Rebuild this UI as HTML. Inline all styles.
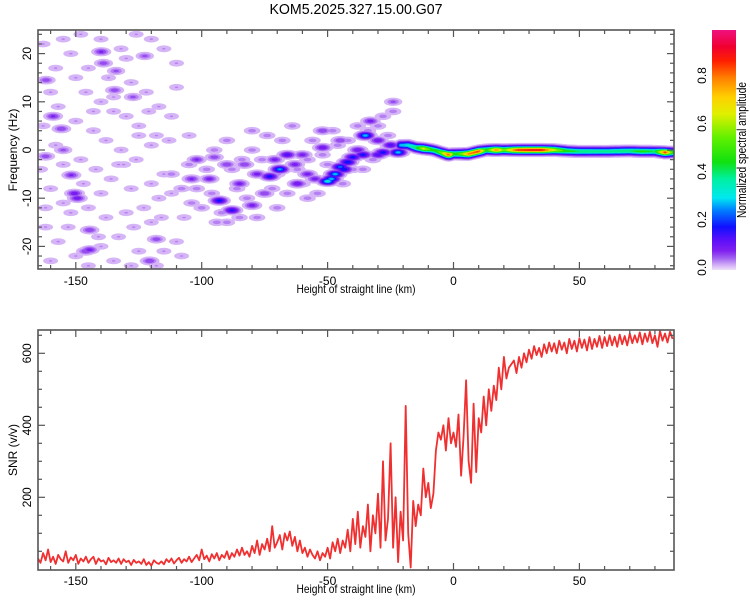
<!DOCTYPE html>
<html><head><meta charset="utf-8"><style>
html,body{margin:0;padding:0;background:#fff;}
svg{display:block;font-family:"Liberation Sans",sans-serif;}
</style></head><body>
<svg id="chart" width="750" height="600" viewBox="0 0 750 600" xmlns="http://www.w3.org/2000/svg">
<defs>
<clipPath id="clipTop"><rect x="38" y="30" width="636" height="239"/></clipPath>
<clipPath id="clipBot"><rect x="38" y="330" width="636" height="240"/></clipPath>
<linearGradient id="cbGrad" x1="0" y1="1" x2="0" y2="0"></linearGradient>
</defs>
<text x="356" y="14" font-size="15" text-anchor="middle" textLength="173" lengthAdjust="spacingAndGlyphs">KOM5.2025.327.15.00.G07</text>
<g id="spec" clip-path="url(#clipTop)"></g>
<g id="snr" clip-path="url(#clipBot)"></g>
<g id="axes"></g>
<text x="356" y="293" font-size="12" text-anchor="middle" textLength="119" lengthAdjust="spacingAndGlyphs">Height of straight line (km)</text>
<text x="356" y="593" font-size="12" text-anchor="middle" textLength="119" lengthAdjust="spacingAndGlyphs">Height of straight line (km)</text>
<text transform="translate(17,150) rotate(-90)" font-size="12" text-anchor="middle">Frequency (Hz)</text>
<text transform="translate(17,450) rotate(-90)" font-size="12" text-anchor="middle">SNR (v/v)</text>
<rect x="712" y="30" width="24" height="240" fill="url(#cbGrad)"/>
<text transform="translate(746,150) rotate(-90)" font-size="13" text-anchor="middle" textLength="136" lengthAdjust="spacingAndGlyphs">Normalized spectral amplitude</text>
</svg>
<script>
// ---- data ----
const snrStartKm = -165;
const snrStepKm = 1;
const snrValues = [
30,18,45,25,55,20,35,15,40,28,
22,50,18,33,25,40,15,30,22,35,
18,28,35,15,30,22,25,14,32,20,
25,18,30,15,28,20,24,12,26,18,
22,15,28,12,20,10,25,18,15,22,
14,28,20,30,16,25,32,18,28,22,
35,20,30,40,25,55,28,38,22,42,
30,45,25,40,32,50,28,45,35,55,
38,60,40,50,35,65,45,80,40,70,
55,85,50,120,60,75,95,55,100,80,
105,65,90,50,80,45,60,35,55,40,
30,50,25,45,35,60,30,75,50,85,
45,80,60,110,50,140,70,160,60,120,
90,180,50,150,100,210,60,300,80,140,
350,60,200,20,160,80,454,100,5,190,
120,180,150,280,200,240,170,210,330,380,
360,400,330,420,350,380,340,430,260,370,
525,300,240,460,270,420,380,480,400,500,
440,510,470,560,500,590,530,560,570,580,
545,590,560,600,575,610,585,620,595,615,
590,625,600,630,605,628,600,635,610,630,
600,640,612,635,605,642,615,638,608,645,
612,640,618,648,615,645,620,650,622,646,
618,652,625,648,622,655,628,650,630,658,
625,655,632,660,628,650,618,662,635,655,
630,660,640];

const spotKm = [
-139.9,-139,-134,-134.6,-127.3,-122.6,-161.8,-159,-155.7,-155,-162,-151.8,-149.4,-150.5,-144.5,-144.5,-146,-118,-120.7,
-102,-104,-97,-93,-88,-85,-90,-80,-78,-73,-75,-69,-66,-63,-62,-58,-55,-52,-52,-50,-47,-45,-42,-40,-38,-35,-33,-30,-28,-25,-22,-24,-36,-60,-71,-83,-95,-45,-30,-48.5,-43.5,
-163,-158,-160,-163,-157,-150,-146,-140,-135,-130,-125,-118,-113,-155,-148,-142,-136,-128,-120,-115,-160,-152,-145,-138,-130,-123,-117,-112,-162,-157,-150,-140,-133,-127,-120,-115,-110,-160,-145,-135,-125,-155,-148,-140,-132,-126,-120,-115,-110,-152,-145,-137,-128,-122,-117,-112,-150,-143,-138,-132,-126,-120,-158,-164,-147,-140,-133,-125,-135,-130,-143,-155,-162,-118,-128,-108,-110,-105,-107,
-105,-102,-98,-96,-92,-90,-85,-82,-88,-84,-80,-76,-72,-70,-66,-62,-58,-54,-50,-46,-42,-38,-34,-30,-26,-90,-95,-100,-108,-112,-78,-68,-64,-56,-48,-44,-36,-32,-28,-24,-86,-74,-60,-58,-94,-104,-80,-70,-52,-40,-153,-131,-121,-141,-116];
const spotHz = [
20.4,18,16.4,12.4,11,19.5,14.5,7,4.4,0,-1.3,-5.2,-10,-9,-16.6,-20.7,-21,-18.5,-23,
-2,-6,-6,-10.5,-12.5,-7,-3,-11.5,-5,-5.5,-9,-4,-1,-3,-7,-5,-6,0.5,4,-6.5,-5,-3.5,-2.5,-1.5,0,3,6,2,-0.5,1,-0.5,10,-1,-1,-2,-3,-1.5,2,-1,-6,-4,
22,17,12,5,9,15,12,10,8,7,5,3,2,-3,-2,-4,-6,-8,-7,-5,-8,-13,-12,-14,-13,-12,-10,-9,-16,-19,-22,-20,-18,-16,-15,-21,-19,-23,-24,-23,-21,23,24,23,21,24,23,21,18,20,17,15,14,12,9,7,6,4,2,0,-2,1,1,-4,-7,-9,-3,3,11,19,8,-11,-12,-24,-24,-22,13,3,-14,
-3,-8,-4,-9,-13,-15,-14,-10,-4,-2,0,-2,-8,-12,-9,-4,-2,-9,-3,1,2,5,4,5,3,2,0,-12,-8,-5,-14,2,5,2,4,-7,-4,-2,7,8,-8,3,-7,-10,-15,-11,4,-5,-1,-4,-16,-3,8,-18,-14];
const spotAmp = [
0.09,0.07,0.06,0.07,0.06,0.06,0.07,0.09,0.08,0.06,0.07,0.09,0.11,0.11,0.08,0.1,0.08,0.07,0.08,
0.09,0.09,0.1,0.2,0.18,0.1,0.08,0.1,0.1,0.2,0.08,0.28,0.15,0.1,0.12,0.1,0.1,0.12,0.08,0.35,0.3,0.25,0.22,0.2,0.12,0.3,0.1,0.12,0.2,0.15,0.3,0.06,0.2,0.1,0.1,0.08,0.07,0.08,0.15,0.3,0.22,
0.03,0.03,0.03,0.03,0.03,0.03,0.03,0.03,0.03,0.03,0.03,0.03,0.03,0.03,0.03,0.03,0.03,0.03,0.03,0.03,0.03,0.03,0.03,0.03,0.03,0.03,0.03,0.03,0.03,0.03,0.03,0.03,0.03,0.03,0.03,0.03,0.03,0.03,0.03,0.03,0.03,0.03,0.03,0.03,0.03,0.03,0.03,0.03,0.03,0.03,0.03,0.03,0.03,0.03,0.03,0.03,0.03,0.03,0.03,0.03,0.03,0.03,0.03,0.03,0.03,0.03,0.03,0.03,0.03,0.03,0.03,0.03,0.03,0.03,0.03,0.03,0.03,0.03,0.03,
0.04,0.04,0.04,0.04,0.04,0.04,0.04,0.04,0.04,0.04,0.04,0.04,0.04,0.04,0.04,0.04,0.04,0.04,0.04,0.04,0.04,0.04,0.04,0.04,0.04,0.04,0.04,0.04,0.04,0.04,0.04,0.04,0.04,0.04,0.04,0.04,0.04,0.04,0.04,0.04,0.04,0.04,0.04,0.04,0.04,0.04,0.04,0.04,0.04,0.04,0.03,0.03,0.03,0.03,0.03];

const ridgeKm  = [-21,-18,-15,-12,-8,-5,-2,0,3,6,10,13,17,20,25,30,35,40,45,50,60,70,75,80,84,88];
const ridgeHz  = [1,1,0.5,0.3,0,-0.5,-1,-0.8,-0.8,-0.8,-0.3,0,0,0,0,0,0,0,-0.2,-0.3,-0.3,-0.2,-0.3,-0.3,-0.5,-0.5];
const ridgeAmp = [0.3,0.35,0.45,0.7,0.5,0.6,0.9,0.5,0.6,0.85,0.9,0.5,0.85,0.6,0.9,0.95,0.95,0.7,0.5,0.45,0.42,0.45,0.5,0.45,0.9,0.4];

const xMajorTicks = [-150,-100,-50,0,50];
const freqTicks = [-20,-10,0,10,20];
const snrTicks = [200,400,600];
const cbTicks = [0.0,0.2,0.4,0.6,0.8];

// ---- scales ----
const xs = km => 453.5 + km*2.518;
const ysF = hz => 150 - hz*4.82;
const ysS = v => 569.3 - v*0.36;
const ysC = a => 267.5 - a*240;

const cmapStops = [[0,'#ece0fa'],[0.02,'#d4b0f7'],[0.05,'#a060f0'],[0.08,'#8020f0'],[0.12,'#6010f8'],[0.18,'#1010ff'],[0.25,'#0080ff'],[0.3,'#00e8f0'],[0.38,'#00f0a0'],[0.45,'#10e010'],[0.55,'#60f000'],[0.65,'#e0f000'],[0.72,'#ffd000'],[0.8,'#ff8000'],[0.87,'#ff2000'],[0.93,'#f00030'],[1,'#f01080']];
function hex(c){return [parseInt(c.slice(1,3),16),parseInt(c.slice(3,5),16),parseInt(c.slice(5,7),16)];}
function cmap(t){
  for(let i=1;i<cmapStops.length;i++){
    if(t<=cmapStops[i][0]){
      const [t0,c0]=cmapStops[i-1],[t1,c1]=cmapStops[i];
      const f=(t-t0)/(t1-t0),a=hex(c0),b=hex(c1);
      return 'rgb('+a.map((v,k)=>Math.round(v+(b[k]-v)*f)).join(',')+')';
    }
  }
  return cmapStops[cmapStops.length-1][1];
}
const NS='http://www.w3.org/2000/svg';
function mk(tag,attrs,parent){const e=document.createElementNS(NS,tag);for(const k in attrs)e.setAttribute(k,attrs[k]);parent.appendChild(e);return e;}

const grad=document.getElementById('cbGrad');
cmapStops.forEach(s=>{mk('stop',{offset:s[0],'stop-color':s[1]},grad);});

// ---- spectrogram ----
const spec=document.getElementById('spec');
const levels=[0.008,0.028,0.05,0.08,0.12,0.17,0.22,0.27,0.32,0.38,0.45,0.55,0.65,0.72,0.8,0.87,0.93];
const marks=[];
spotKm.forEach((k,i)=>{marks.push({x:xs(k),y:ysF(spotHz[i]),a:spotAmp[i],sx:4.6,sy:2.1});});
for(let k=ridgeKm[0];k<=ridgeKm[ridgeKm.length-1];k+=0.6){
  let j=0;while(j<ridgeKm.length-2&&k>ridgeKm[j+1])j++;
  const f=(k-ridgeKm[j])/(ridgeKm[j+1]-ridgeKm[j]);
  const hz=ridgeHz[j]+(ridgeHz[j+1]-ridgeHz[j])*f;
  const a=ridgeAmp[j]+(ridgeAmp[j+1]-ridgeAmp[j])*f;
  marks.push({x:xs(k),y:ysF(hz),a:a,sx:2.6,sy:2.3});
}
levels.forEach((lv,li)=>{
  const g=mk('g',{},spec);
  
  
  marks.forEach(m=>{
    if(m.a<=lv)return;
    const r=Math.sqrt(2*Math.log(m.a/lv));
    const e=mk('ellipse',{cx:m.x.toFixed(1),cy:m.y.toFixed(1),rx:(m.sx*r).toFixed(1),ry:(m.sy*r).toFixed(1),fill:cmap(lv+0.01)},g);
    
    
  });
});

// ---- SNR line ----
const snr=document.getElementById('snr');
const pts=snrValues.map((v,i)=>xs(snrStartKm+i*snrStepKm).toFixed(1)+','+ysS(v).toFixed(1)).join(' ');
const line=mk('polyline',{points:pts,fill:'none',stroke:'#f03030','stroke-width':1.8,'stroke-linejoin':'round'},snr);



// ---- axes ----
const axes=document.getElementById('axes');
const frameColor='#555';
function frame(x0,y0,x1,y1,name){
  const r=mk('rect',{x:x0,y:y0,width:x1-x0,height:y1-y0,fill:'none',stroke:frameColor,'stroke-width':1.6},axes);
  
  
}
function tick(x1,y1,x2,y2){const l=mk('line',{x1:x1,y1:y1,x2:x2,y2:y2,stroke:frameColor,'stroke-width':1.2},axes);
  
  }
function label(txt,x,y,rot,name){
  const t=mk('text',{'font-size':12,'text-anchor':'middle'},axes);
  if(rot)t.setAttribute('transform','translate('+x+','+y+') rotate(-90)');else{t.setAttribute('x',x);t.setAttribute('y',y);}
  t.textContent=txt;
  
  
}
function xAxis(y0,y1,labY,pref){
  for(let k=-160;k<=80;k+=10){
    const major=xMajorTicks.indexOf(k)>=0, L=major?7:4, x=xs(k);
    tick(x,y1,x,y1-L);tick(x,y0,x,y0+L);
  }
  xMajorTicks.forEach(k=>label(String(k),xs(k),labY,false,pref+'-x-tick-label'));
}
frame(38,30,674,269,'top-plot-frame');
frame(38,330,674,570,'bottom-plot-frame');
xAxis(30,269,285,'top');
xAxis(330,570,585,'bottom');
for(let h=-24;h<=24;h+=2){const major=h%10===0,L=major?7:4,y=ysF(h);tick(38,y,38+L,y);tick(674,y,674-L,y);}
freqTicks.forEach(h=>label(String(h),31,ysF(h),true,'freq-tick-label'));
for(let v=50;v<=650;v+=50){const major=v%200===0,L=major?7:4,y=ysS(v);tick(38,y,38+L,y);tick(674,y,674-L,y);}
snrTicks.forEach(v=>label(String(v),31,ysS(v),true,'snr-tick-label'));
cbTicks.forEach(a=>label(a.toFixed(1),706,ysC(a),true,'colorbar-tick-label'));
</script>
</body></html>
